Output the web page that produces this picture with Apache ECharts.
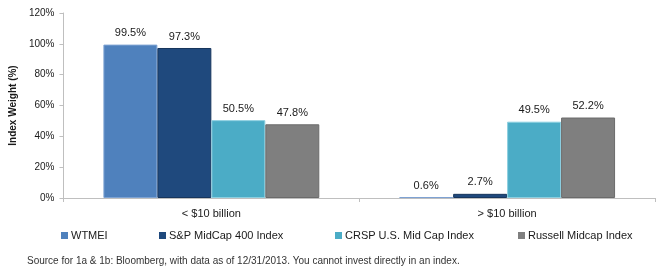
<!DOCTYPE html>
<html>
<head>
<meta charset="utf-8">
<script src="https://cdn.jsdelivr.net/npm/echarts@6/dist/echarts.min.js"></script>
<style>
    html, body { margin: 0; padding: 0; background: #fff; }
    #chart { width: 670px; height: 279px; }
</style>
</head>
<body>
<div id="chart"></div>
<script>
// 市值分布 - 指数权重
var categories = ['< $10 billion', '> $10 billion'];
var seriesNames = ['WTMEI', 'S&P MidCap 400 Index', 'CRSP U.S. Mid Cap Index', 'Russell Midcap Index'];
var wtmei = [99.5, 0.6];
var spMid = [97.3, 2.7];
var crsp = [50.5, 49.5];
var russell = [47.8, 52.2];
var yTicks = [0, 20, 40, 60, 80, 100, 120];

var colors = ['#4F81BD', '#1F497D', '#4BACC6', '#7F7F7F'];
var borders = ['#7EA3D3', '#17365D', '#8CCFE0', '#6B6B6B'];
var values = [wtmei, spMid, crsp, russell];
var legendLeft = [56, 154, 330, 513];

function makeSeries() {
    var list = [];
    values.forEach(function (item, index) {
        list.push({
            name: seriesNames[index],
            type: 'bar',
            data: item,
            barGap: 0,
            barCategoryGap: '27%',
            itemStyle: { color: colors[index], borderColor: borders[index], borderWidth: 1 },
            label: {
                show: true,
                position: 'top',
                distance: 6,
                formatter: function (p) { return p.value.toFixed(1) + '%'; },
                color: '#1a1a1a',
                fontFamily: 'Liberation Sans, Arial',
                fontSize: 11
            }
        });
    });
    return list;
}

function makeLegends() {
    return seriesNames.map(function (name, index) {
        return {
            data: [name],
            left: legendLeft[index],
            top: 225,
            itemWidth: 7,
            itemHeight: 7,
            itemGap: 3,
            icon: 'rect',
            itemStyle: { borderWidth: 0 },
            textStyle: { color: '#1a1a1a', fontFamily: 'Liberation Sans, Arial', fontSize: 11, padding: [0, 0, 0, -2] }
        };
    });
}

var chart = echarts.init(document.getElementById('chart'));
chart.setOption({
    animation: false,
    color: colors,
    grid: { left: 55, right: 15, top: 13, bottom: 81, containLabel: false },
    legend: makeLegends(),
    title: {
        text: 'Source for 1a & 1b: Bloomberg, with data as of 12/31/2013. You cannot invest directly in an index.',
        left: 22,
        top: 251,
        textStyle: { color: '#333', fontFamily: 'Liberation Sans, Arial', fontSize: 10, fontWeight: 'normal' }
    },
    xAxis: {
        type: 'category',
        data: categories,
        axisLine: { lineStyle: { color: '#BFBFBF' } },
        axisTick: { show: true, length: 4, lineStyle: { color: '#BFBFBF' } },
        axisLabel: { color: '#1a1a1a', fontFamily: 'Liberation Sans, Arial', fontSize: 11, margin: 10 }
    },
    yAxis: {
        type: 'value',
        min: yTicks[0],
        max: yTicks[yTicks.length - 1],
        interval: 20,
        name: 'Index Weight (%)',
        nameLocation: 'middle',
        nameGap: 41,
        nameTextStyle: { color: '#1a1a1a', fontFamily: 'Liberation Sans, Arial', fontSize: 10, fontWeight: 'bold' },
        axisLine: { show: true, lineStyle: { color: '#BFBFBF' } },
        axisTick: { show: true, length: 4, lineStyle: { color: '#BFBFBF' } },
        splitLine: { show: false },
        axisLabel: {
            color: '#1a1a1a',
            fontFamily: 'Liberation Sans, Arial',
            fontSize: 10,
            margin: 9,
            formatter: '{value}%'
        }
    },
    series: makeSeries()
});
</script>
</body>
</html>
